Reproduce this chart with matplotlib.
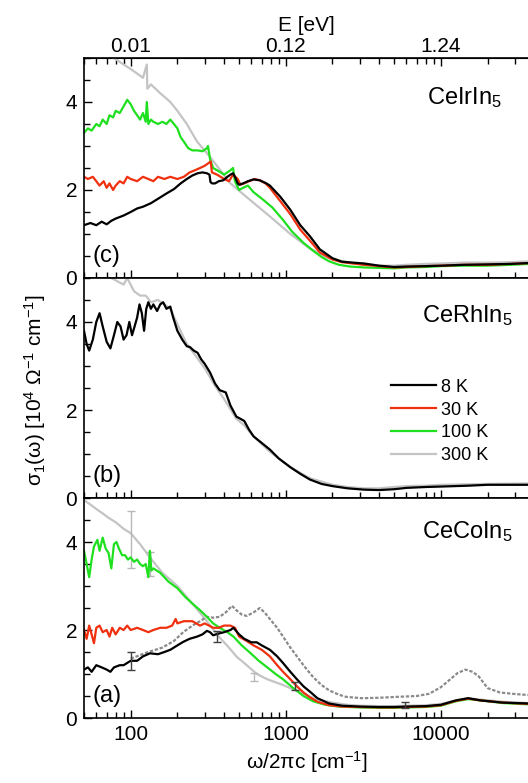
import numpy as np
import matplotlib
matplotlib.use('Agg')
import matplotlib.pyplot as plt
from matplotlib.ticker import FixedLocator, NullFormatter, LogLocator

plt.rcParams['font.family'] = ['Liberation Sans', 'DejaVu Sans']
plt.rcParams['mathtext.fontset'] = 'custom'
plt.rcParams['mathtext.rm'] = 'Liberation Sans'
plt.rcParams['mathtext.it'] = 'Liberation Sans:italic'

# colours for the temperatures
colors = {'8 K': 'black', '30 K': '#f0300e', '100 K': '#1fe01f', '300 K': '#c4c4c4'}

# ---- CeIrIn5 (panel c) ----
c8_x = [50, 55, 60, 65, 70, 75, 80, 90, 100, 110, 120, 135, 150, 170, 190, 210, 230, 250, 270, 290,
        310, 322, 327, 335, 350, 370, 395, 420, 440, 457, 470, 490, 500, 530, 570, 620, 680, 750,
        790, 920, 1070, 1240, 1430, 1660, 2000, 2300, 2700, 3200, 4000, 5000, 6000, 8000, 10000,
        14000, 20000, 28000, 37000]
c8_y = [1.2, 1.25, 1.2, 1.28, 1.22, 1.3, 1.35, 1.42, 1.5, 1.58, 1.62, 1.7, 1.8, 1.92, 2.02, 2.15,
        2.25, 2.33, 2.38, 2.4, 2.38, 2.35, 2.18, 2.15, 2.15, 2.2, 2.22, 2.3, 2.35, 2.38, 2.3, 2.15,
        2.12, 2.15, 2.2, 2.24, 2.22, 2.15, 2.1, 1.85, 1.55, 1.2, 0.95, 0.65, 0.45, 0.37, 0.35, 0.33,
        0.28, 0.25, 0.26, 0.27, 0.28, 0.3, 0.31, 0.32, 0.34]
c30_x = [50, 53, 57, 60, 63, 67, 70, 73, 77, 80, 85, 90, 95, 100, 110, 120, 130, 140, 150, 165, 180,
         200, 220, 240, 260, 280, 300, 320, 328, 334, 360, 380, 400, 430, 457, 490, 510, 540, 580,
         630, 680, 740, 790, 920, 1070, 1240, 1430, 1660, 2000, 2300, 2700, 3200, 4000, 5000, 6000,
         8000, 10000, 14000, 20000, 28000, 37000]
c30_y = [2.3, 2.25, 2.3, 2.2, 2.1, 2.2, 2.05, 2.15, 2.0, 2.1, 2.2, 2.15, 2.3, 2.25, 2.2, 2.3, 2.25,
         2.2, 2.3, 2.25, 2.3, 2.25, 2.3, 2.4, 2.45, 2.5, 2.55, 2.62, 2.65, 2.4, 2.35, 2.3, 2.25, 2.2,
         2.35, 2.25, 2.12, 2.15, 2.2, 2.25, 2.22, 2.15, 2.05, 1.75, 1.45, 1.1, 0.85, 0.58, 0.42,
         0.36, 0.33, 0.3, 0.27, 0.24, 0.25, 0.27, 0.28, 0.3, 0.3, 0.32, 0.34]
c100_x = [50, 53, 56, 60, 63, 66, 70, 73, 77, 80, 85, 90, 95, 100, 105, 110, 115, 120, 125, 127,
          130, 135, 140, 150, 160, 170, 180, 190, 200, 210, 220, 235, 250, 270, 290, 310, 315, 325,
          340, 360, 380, 400, 420, 440, 457, 470, 500, 530, 570, 620, 720, 820, 960, 1100, 1300,
          1500, 1700, 1900, 2200, 2600, 3200, 4000, 5000, 6000, 8000, 10000, 14000, 20000, 28000,
          37000]
c100_y = [3.3, 3.4, 3.35, 3.5, 3.45, 3.6, 3.5, 3.7, 3.65, 3.8, 3.75, 3.9, 4.05, 3.95, 3.8, 3.7, 3.6,
          3.75, 3.55, 4.0, 3.5, 3.6, 3.55, 3.5, 3.55, 3.5, 3.6, 3.5, 3.4, 3.2, 3.1, 2.95, 2.9, 2.9,
          2.88, 2.95, 3.0, 2.7, 2.5, 2.45, 2.4, 2.35, 2.4, 2.45, 2.5, 2.2, 2.0, 2.05, 2.1, 1.95,
          1.77, 1.6, 1.32, 1.05, 0.8, 0.62, 0.48, 0.38, 0.3, 0.26, 0.24, 0.23, 0.22, 0.24, 0.25,
          0.27, 0.28, 0.28, 0.3, 0.32]
c300_x = [50, 70, 80, 100, 120, 127, 128, 135, 155, 180, 200, 230, 268, 325, 440, 590, 790, 1070,
          1430, 1900, 2600, 3200, 4000, 5000, 6000, 8000, 10000, 14000, 20000, 28000, 37000]
c300_y = [5.3, 5.1, 4.97, 4.75, 4.55, 4.85, 4.3, 4.4, 4.2, 4.0, 3.8, 3.5, 3.1, 2.75, 2.15, 1.77,
          1.4, 1.0, 0.67, 0.45, 0.35, 0.3, 0.28, 0.28, 0.3, 0.32, 0.33, 0.35, 0.35, 0.36, 0.38]

# ---- CeRhIn5 (panel b) ----
b8_x = [50, 52, 54, 57, 60, 63, 66, 70, 74, 78, 82, 86, 90, 94, 98, 102, 106, 110, 114, 118, 122,
        126, 130, 135, 140, 148, 155, 162, 170, 180, 188, 200, 215, 230, 241, 255, 270, 285, 300,
        325, 350, 375, 410, 440, 480, 510, 540, 580, 620, 700, 790, 900, 1070, 1240, 1430, 1700,
        2000, 2500, 3200, 4000, 5000, 6000, 8000, 10000, 15000, 20000, 28000, 37000]
b8_y = [3.8, 3.5, 3.35, 3.6, 4.0, 4.2, 3.9, 3.55, 3.4, 3.7, 4.0, 3.9, 3.6, 3.7, 4.0, 3.7, 3.9, 4.1,
        4.4, 4.2, 3.8, 4.3, 4.45, 4.3, 4.4, 4.25, 4.4, 4.45, 4.3, 4.35, 4.1, 3.8, 3.6, 3.45, 3.43,
        3.35, 3.3, 3.15, 3.05, 2.85, 2.6, 2.45, 2.4, 2.1, 1.85, 1.8, 1.75, 1.55, 1.4, 1.25, 1.1,
        0.9, 0.7, 0.55, 0.42, 0.32, 0.27, 0.22, 0.19, 0.18, 0.2, 0.23, 0.25, 0.26, 0.28, 0.3, 0.3,
        0.3]
b300_x = [50, 70, 75, 90, 95, 105, 115, 125, 135, 150, 165, 180, 200, 230, 260, 300, 350, 400, 480,
          540, 620, 790, 1070, 1430, 2000, 2500, 3200, 4000, 5000, 6000, 8000, 10000, 20000, 37000]
b300_y = [5.5, 5.2, 5.0, 4.85, 5.0, 4.7, 4.6, 4.6, 4.45, 4.5, 4.4, 4.3, 3.95, 3.5, 3.25, 2.95, 2.55,
          2.25, 1.8, 1.65, 1.4, 1.05, 0.7, 0.45, 0.3, 0.25, 0.22, 0.22, 0.25, 0.27, 0.28, 0.3, 0.32,
          0.33]

# ---- CeCoIn5 (panel a) ----
a8_x = [50, 53, 56, 60, 65, 70, 74, 78, 85, 90, 100, 110, 120, 133, 150, 165, 180, 200, 218, 240,
        268, 290, 310, 325, 340, 370, 400, 440, 460, 500, 540, 600, 650, 700, 790, 880, 960, 1070,
        1180, 1300, 1430, 1600, 1900, 2300, 3000, 4000, 5000, 6000, 8000, 10000, 12500, 15000,
        18000, 25000, 37000]
a8_y = [1.1, 1.15, 1.05, 1.2, 1.15, 1.1, 1.05, 1.15, 1.2, 1.2, 1.3, 1.3, 1.4, 1.47, 1.45, 1.5, 1.55,
        1.65, 1.73, 1.8, 1.85, 1.9, 1.98, 1.95, 1.88, 1.92, 1.95, 2.0, 2.05, 1.9, 1.8, 1.72, 1.72,
        1.65, 1.55, 1.4, 1.25, 1.05, 0.88, 0.72, 0.6, 0.45, 0.33, 0.28, 0.26, 0.25, 0.25, 0.26,
        0.27, 0.3, 0.4, 0.45, 0.4, 0.35, 0.33]
a30_x = [50, 52, 54, 56, 58, 60, 63, 66, 70, 73, 76, 80, 85, 90, 95, 100, 110, 120, 130, 140, 155,
         170, 185, 195, 200, 220, 250, 280, 300, 320, 340, 370, 400, 440, 470, 500, 560, 620, 700,
         790, 880, 960, 1070, 1180, 1300, 1430, 1600, 1900, 2300, 3000, 4000, 5000, 6000, 8000,
         10000, 12500, 15000, 18000, 25000, 37000]
a30_y = [2.0, 1.8, 2.1, 1.9, 1.7, 2.05, 2.1, 1.95, 2.0, 1.85, 2.05, 1.9, 2.05, 2.0, 2.1, 2.0, 2.05,
         2.0, 1.95, 2.0, 2.05, 2.05, 2.1, 2.25, 2.15, 2.2, 2.2, 2.1, 2.15, 2.1, 2.05, 2.05, 2.1, 2.1,
         2.05, 1.85, 1.75, 1.65, 1.55, 1.4, 1.2, 1.05, 0.88, 0.72, 0.58, 0.47, 0.37, 0.29, 0.26,
         0.25, 0.24, 0.24, 0.25, 0.26, 0.29, 0.39, 0.44, 0.4, 0.35, 0.32]
a100_x = [50, 52, 54, 56, 58, 61, 63, 66, 69, 72, 75, 78, 81, 84, 88, 92, 96, 100, 105, 110, 115,
          120, 125, 130, 133, 136, 140, 155, 175, 200, 225, 250, 280, 310, 340, 375, 420, 460, 520,
          590, 670, 760, 860, 960, 1100, 1300, 1500, 1800, 2200, 3000, 4000, 5000, 6000, 8000,
          10000, 12500, 15000, 18000, 25000, 37000]
a100_y = [3.8, 3.5, 3.2, 3.6, 3.9, 4.05, 3.8, 4.1, 3.85, 3.75, 3.4, 3.95, 4.0, 3.85, 3.7, 3.7, 3.6,
          3.65, 3.55, 3.6, 3.5, 3.45, 3.5, 3.2, 3.8, 3.35, 3.4, 3.3, 3.1, 2.95, 2.75, 2.6, 2.45, 2.3,
          2.15, 2.05, 1.95, 1.85, 1.65, 1.48, 1.3, 1.15, 1.0, 0.88, 0.7, 0.5, 0.38, 0.3, 0.26, 0.24,
          0.23, 0.23, 0.24, 0.25, 0.28, 0.38, 0.43, 0.4, 0.34, 0.31]
a300_x = [50, 55, 60, 66, 72, 80, 90, 100, 115, 133, 160, 200, 250, 310, 370, 430, 480, 560, 650,
          760, 960, 1300, 1600, 2000, 2500, 3000, 4000, 5000, 6000, 8000, 10000, 12500, 15000,
          18000, 25000, 37000]
a300_y = [4.95, 4.85, 4.75, 4.65, 4.55, 4.45, 4.3, 4.2, 3.95, 3.65, 3.3, 3.0, 2.6, 2.2, 1.85, 1.6,
          1.4, 1.2, 1.0, 0.88, 0.75, 0.55, 0.42, 0.35, 0.3, 0.28, 0.27, 0.27, 0.28, 0.29, 0.32, 0.4,
          0.45, 0.42, 0.37, 0.34]
# extra reference curve (dark grey, dotted)
aref_x = [100, 130, 160, 190, 218, 250, 280, 310, 340, 375, 410, 450, 480, 520, 560, 620, 680, 730,
          790, 880, 960, 1070, 1180, 1300, 1500, 1700, 1900, 2200, 2450, 3100, 4000, 5200, 7000,
          8400, 10000, 11500, 12800, 14400, 16000, 17500, 20000, 24000, 29000, 37000]
aref_y = [1.35, 1.5, 1.6, 1.75, 1.95, 2.1, 2.2, 2.3, 2.28, 2.3, 2.4, 2.55, 2.45, 2.35, 2.32, 2.4,
          2.5, 2.4, 2.25, 2.05, 1.85, 1.6, 1.4, 1.2, 0.93, 0.75, 0.63, 0.53, 0.48, 0.45, 0.46, 0.48,
          0.5, 0.55, 0.7, 0.88, 1.02, 1.1, 1.05, 0.95, 0.68, 0.58, 0.55, 0.52]

# error bars in panel a
err_grey_x = [100, 133, 620]
err_grey_y = [4.05, 3.5, 0.93]
err_grey_e = [0.65, 0.28, 0.09]
err_black_x = [100, 360, 1150, 5900]
err_black_y = [1.3, 1.85, 0.72, 0.3]
err_black_e = [0.2, 0.13, 0.09, 0.07]

fig = plt.figure(figsize=(5.28, 7.83), dpi=100)
W, H = 528.0, 783.0
left = 84 / W
width = (529 - 84) / W
ph = 220 / H
ax_c = fig.add_axes([left, (H - 278) / H, width, ph])
ax_b = fig.add_axes([left, (H - 498) / H, width, ph])
ax_a = fig.add_axes([left, (H - 718) / H, width, ph])

lw = 1.6
for ax in (ax_c, ax_b, ax_a):
    ax.set_xscale('log')
    ax.set_xlim(50, 37000)
    ax.set_ylim(0, 5)
    ax.xaxis.set_major_locator(FixedLocator([100, 1000, 10000]))
    ax.xaxis.set_minor_locator(LogLocator(base=10, subs=np.arange(2, 10)))
    ax.xaxis.set_minor_formatter(NullFormatter())
    ax.set_yticks([0, 2, 4])
    ax.set_yticks(np.arange(0, 5.01, 0.5), minor=True)
    ax.tick_params(which='both', direction='in', top=False, right=False, labelsize=15, pad=5)
    ax.tick_params(which='major', length=6, width=1)
    ax.tick_params(which='minor', length=4, width=1)
    for s in ax.spines.values():
        s.set_linewidth(1.2)

# panel c
ax_c.plot(c300_x, c300_y, color=colors['300 K'], lw=lw)
ax_c.plot(c100_x, c100_y, color=colors['100 K'], lw=lw)
ax_c.plot(c30_x, c30_y, color=colors['30 K'], lw=lw)
ax_c.plot(c8_x, c8_y, color=colors['8 K'], lw=lw)
ax_c.tick_params(labelbottom=False)
sec = ax_c.secondary_xaxis('top')
sec.set_xticks([100, 1000, 10000], labels=['0.01', '0.12', '1.24'])
sec.xaxis.set_minor_locator(LogLocator(base=10, subs=np.arange(2, 10)))
sec.xaxis.set_minor_formatter(NullFormatter())
sec.tick_params(which='both', direction='in', labelsize=15, pad=1.5)
sec.tick_params(which='major', length=6, width=1)
sec.tick_params(which='minor', length=4, width=1)
sec.set_xlabel('E [eV]', fontsize=15, labelpad=4)
ax_c.text(0.77, 0.79, 'CeIrIn$_5$', transform=ax_c.transAxes, fontsize=17)
ax_c.text(0.02, 0.1, '(c)', transform=ax_c.transAxes, fontsize=17, va='center')

# panel b
ax_b.plot(b300_x, b300_y, color=colors['300 K'], lw=lw)
ax_b.plot(b8_x, b8_y, color=colors['8 K'], lw=lw)
ax_b.tick_params(labelbottom=False)
ax_b.text(0.76, 0.8, 'CeRhIn$_5$', transform=ax_b.transAxes, fontsize=17)
ax_b.text(0.02, 0.1, '(b)', transform=ax_b.transAxes, fontsize=17, va='center')
handles = [plt.Line2D([], [], color=colors[k], lw=lw) for k in colors]
ax_b.legend(handles, list(colors), loc='upper left', bbox_to_anchor=(0.67, 0.583), frameon=False,
            fontsize=13, handlelength=2.5, handletextpad=0.25, labelspacing=0.32, borderpad=0)

# panel a
ax_a.plot(a300_x, a300_y, color=colors['300 K'], lw=lw)
ax_a.errorbar(err_grey_x, err_grey_y, yerr=err_grey_e, fmt='none', ecolor='#b8b8b8',
              elinewidth=1, capsize=3)
ax_a.plot(aref_x, aref_y, color='#8a8a8a', lw=1.6, ls=(0, (1.5, 0.8)))
ax_a.plot(a100_x, a100_y, color=colors['100 K'], lw=lw)
ax_a.plot(a30_x, a30_y, color=colors['30 K'], lw=lw)
ax_a.plot(a8_x, a8_y, color=colors['8 K'], lw=lw)
ax_a.errorbar(err_black_x, err_black_y, yerr=err_black_e, fmt='none', ecolor='#404040',
              elinewidth=1, capsize=3)
ax_a.text(0.76, 0.82, 'CeCoIn$_5$', transform=ax_a.transAxes, fontsize=17)
ax_a.text(0.02, 0.1, '(a)', transform=ax_a.transAxes, fontsize=17, va='center')
ax_a.set_xticklabels(['100', '1000', '10000'])
ax_a.set_xlabel('ω/2πc [cm$^{-1}$]', fontsize=15, labelpad=4)

fig.text(35 / W, 1 - 390 / H, 'σ$_1$(ω) [10$^4$ Ω$^{-1}$ cm$^{-1}$]', rotation=90, fontsize=15,
         ha='center', va='center')

fig.savefig('out.png', dpi=100)
